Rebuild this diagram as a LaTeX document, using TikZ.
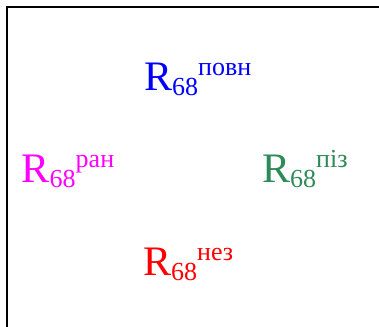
\documentclass[tikz,border=0pt]{standalone}
\usepackage{fontspec}
\setmainfont{Liberation Serif}
\usepackage{tikz}

\definecolor{seagrn}{RGB}{46,139,87}
\definecolor{fuchs}{RGB}{255,0,255}
\definecolor{pureblue}{RGB}{0,0,255}
\definecolor{purered}{RGB}{255,0,0}

% R_68 with a superscript tag
\newcommand{\rtag}[1]{\fontsize{42}{42}\selectfont R\raisebox{-5pt}{\fontsize{26}{26}\selectfont 68}\raisebox{15pt}{\fontsize{26}{26}\selectfont #1}}

\begin{document}
\begin{tikzpicture}[
    x=1pt, y=1pt,
    lbl/.style={anchor=base west, inner sep=0pt},
    frame/.style={line width=2.6pt, black}
]
\clip (0,0) rectangle (379,326);
\fill[white] (0,0) rectangle (379,326);
\draw[frame] (7,-10) -- (7,319) -- (390,319);

\node[lbl, text=pureblue] (rpovn) at (144,235) {\rtag{повн}};
\node[lbl, text=fuchs] (rran) at (21.5,143.5) {\rtag{ран}};
\node[lbl, text=seagrn] (rpiz) at (262,143.5) {\rtag{піз}};
\node[lbl, text=purered] (rnez) at (143,51) {\rtag{нез}};
\end{tikzpicture}
\end{document}
